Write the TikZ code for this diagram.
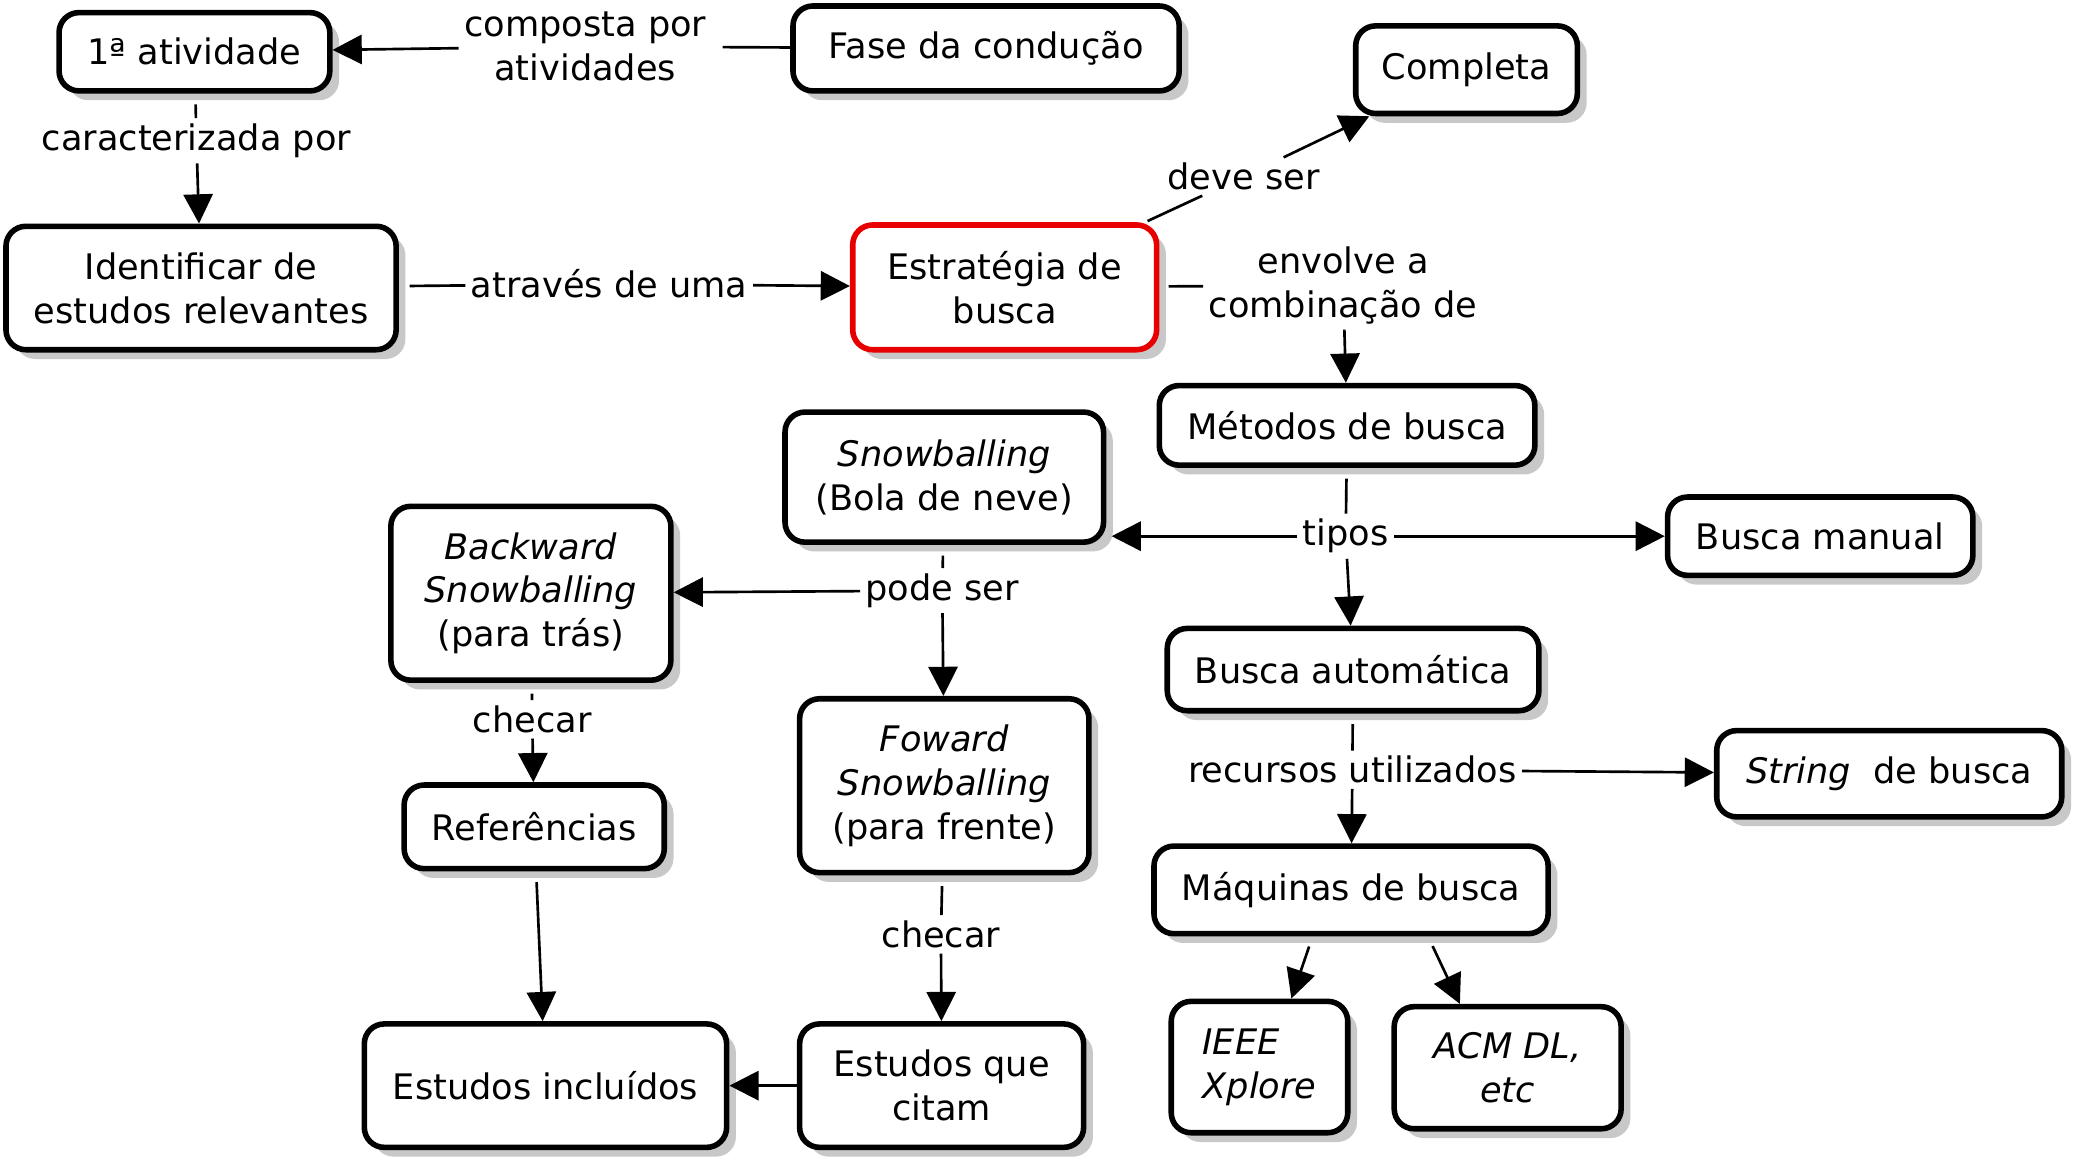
\documentclass[tikz,border=0pt]{standalone}
\usepackage{fontspec}
\setmainfont{DejaVu Sans}
\usetikzlibrary{shadows,arrows.meta}
\definecolor{shadowgray}{RGB}{200,200,200}
\definecolor{redborder}{RGB}{232,0,0}
\begin{document}
\begin{tikzpicture}[x=1pt,y=-1pt,
  every node/.style={font=\fontsize{26.5}{33}\selectfont},
  concept/.style={draw=black, line width=4.2pt, rounded corners=15pt, fill=white,
    inner sep=0pt, align=center,
    drop shadow={shadow xshift=7pt, shadow yshift=-7pt, fill=shadowgray, opacity=1}},
  link/.style={inner sep=4pt, align=center},
  conn/.style={line width=2pt, -{Triangle[length=22pt,width=22pt]}},
  plainline/.style={line width=2pt},
]
\path[use as bounding box, fill=white] (0,0) rectangle (1568,879);

% concepts
\node[concept, minimum width=204pt, minimum height=59pt] (a1) at (146.5,39) {1ª atividade};
\node[concept, minimum width=291pt, minimum height=64pt] (fase) at (743,36.5) {Fase da condução};
\node[concept, minimum width=167pt, minimum height=66pt] (completa) at (1105,52.5) {Completa};
\node[concept, minimum width=294pt, minimum height=93pt] (ident) at (151.5,217) {Identificar de\\estudos relevantes};
\node[concept, draw=redborder, minimum width=229pt, minimum height=94pt] (estrat) at (757,216.5) {Estratégia de\\busca};
\node[concept, minimum width=283pt, minimum height=60pt] (metodos) at (1015,320.5) {Métodos de busca};
\node[concept, minimum width=240pt, minimum height=98pt] (snow) at (711.5,359.5) {\textit{Snowballing}\\(Bola de neve)};
\node[concept, minimum width=211pt, minimum height=131pt] (back) at (400,447) {\textit{Backward}\\\textit{Snowballing}\\(para trás)};
\node[concept, minimum width=230pt, minimum height=59pt] (manual) at (1371.5,404) {Busca manual};
\node[concept, minimum width=280pt, minimum height=62pt] (auto) at (1019.5,504.5) {Busca automática};
\node[concept, minimum width=218pt, minimum height=131pt] (fwd) at (711.5,592) {\textit{Foward}\\\textit{Snowballing}\\(para frente)};
\node[concept, minimum width=196pt, minimum height=63pt] (ref) at (402.5,623) {Referências};
\node[concept, minimum width=260pt, minimum height=65pt] (str) at (1423.5,583) {\textit{String}~~de busca};
\node[concept, minimum width=297pt, minimum height=66pt] (maq) at (1018,670.5) {Máquinas de busca};
\node[concept, align=left, minimum width=133pt, minimum height=99pt] (ieee) at (949,804) {\textit{IEEE}\\\textit{Xplore}};
\node[concept, minimum width=171pt, minimum height=92pt] (acm) at (1136,804.5) {\textit{ACM DL,}\\\textit{etc}};
\node[concept, minimum width=273pt, minimum height=93pt] (incl) at (411,818) {Estudos incluídos};
\node[concept, minimum width=214pt, minimum height=93pt] (citam) at (709.5,818) {Estudos que\\citam};

% linking phrases
\node[link] (l1) at (441,35) {composta por\\atividades};
\node[link] (l2) at (148,106) {caracterizada por};
\node[link] (l3) at (459,214) {através de uma};
\node[link] (l4) at (937,133) {deve ser};
\node[link] (l5) at (1012,215) {envolve a\\combinação de};
\node[link] (l6) at (1014,404) {tipos};
\node[link] (l7) at (710,445) {pode ser};
\node[link] (l8) at (401,542) {checar};
\node[link] (l9) at (709,704) {checar};
\node[link] (l10) at (1019,580) {recursos utilizados};

% connectors
\draw[plainline, shorten >=8pt] (fase) -- (l1);
\draw[conn] (l1) -- (a1);
\draw[plainline, shorten <=8pt] (a1) -- (l2);
\draw[conn] (l2) -- (ident);
\draw[plainline, shorten <=8pt] (ident) -- (l3);
\draw[conn] (l3) -- (estrat);
\draw[plainline, shorten <=2pt] (estrat) -- (l4);
\draw[conn] (l4) -- (completa);
\draw[plainline, shorten <=7pt] (estrat) -- (l5);
\draw[conn] (l5) -- (metodos);
\draw[plainline, shorten <=8pt] (metodos) -- (l6);
\draw[conn] (l6) -- (auto);
\draw[conn] (l6) -- (manual);
\draw[conn] (l6) -- ([xshift=4pt]snow.east |- l6);
\draw[plainline, shorten <=8pt] (snow) -- (l7);
\draw[conn] (l7) -- (back);
\draw[conn] (l7) -- (fwd);
\draw[plainline, shorten <=8pt] (back) -- (l8);
\draw[conn] (l8) -- (ref);
\draw[conn, shorten <=8pt] (ref) -- (incl);
\draw[plainline, shorten <=8pt] (fwd) -- (l9);
\draw[conn] (l9) -- (citam);
\draw[conn] (citam) -- (incl);
\draw[plainline, shorten <=8pt] (auto) -- (l10);
\draw[conn] (l10) -- (maq);
\draw[conn] (l10) -- (str);
\draw[conn, shorten <=8pt] ([xshift=-29pt]maq.south) -- ([xshift=24pt]ieee.north);
\draw[conn, shorten <=8pt] ([xshift=58pt]maq.south) -- ([xshift=-36pt]acm.north);
\end{tikzpicture}
\end{document}
